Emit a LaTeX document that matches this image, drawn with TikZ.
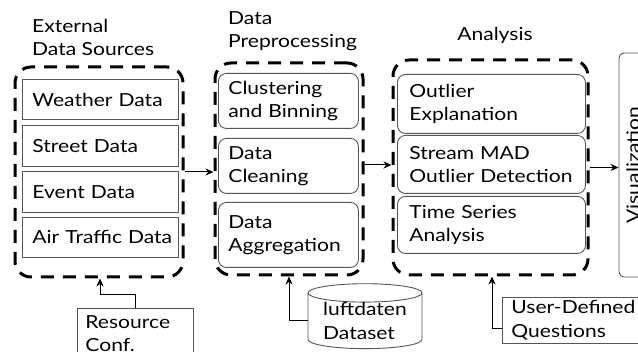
\documentclass[tikz,border=0pt]{standalone}
\usepackage{fontspec}
\setmainfont{Lato}[FakeStretch=1.17]
\usetikzlibrary{arrows.meta,shapes.geometric}
\definecolor{boxgray}{RGB}{85,85,85}
\newcommand\bodyfont{\fontsize{18}{23.5}\selectfont}
\begin{document}
\begin{tikzpicture}[x=1pt,y=-1pt,
  grp/.style={draw=black, line width=3pt, dash pattern=on 13pt off 9pt, rounded corners=16pt, inner sep=0pt},
  boxbase/.style={draw=boxgray, line width=0.9pt, anchor=north west, inner ysep=0pt, align=left, font=\bodyfont},
  srcbox/.style={boxbase, minimum width=156pt, text width=150pt, inner xsep=3pt, execute at begin node={\hspace*{7pt}}},
  prebox/.style={boxbase, rounded corners=8pt, minimum width=140pt, text width=120pt, inner xsep=10pt},
  anabox/.style={boxbase, rounded corners=8pt, minimum width=188pt, text width=164pt, inner xsep=12pt},
  plainbox/.style={boxbase},
  title/.style={inner sep=0pt, align=left, font=\bodyfont},
  arr/.style={draw=black, line width=1pt, -{Stealth[length=8pt,width=7pt]}}
]
\clip (0,0) rectangle (638,352);
% titles
\node[title, anchor=north west] (t1) at (32,19) {External\\Data Sources};
\node[title, anchor=north west] (t2) at (228,11) {Data\\Preprocessing};
\node[title, anchor=north] (t3) at (495,27.5) {Analysis};
% group boxes
\node[grp, minimum width=168pt, minimum height=210pt] (g1) at (99,172) {};
\node[grp, minimum width=148pt, minimum height=212pt] (g2) at (289,169) {};
\node[grp, minimum width=195pt, minimum height=215pt] (g3) at (490.5,167.5) {};
% sources
\node[srcbox, minimum height=40pt] (s1) at (22,79) {Weather Data};
\node[srcbox, minimum height=41pt] (s2) at (22,125) {Street Data};
\node[srcbox, minimum height=41pt] (s3) at (22,171) {Event Data};
\node[srcbox, minimum height=40pt] (s4) at (22,217) {Air Traffic Data};
% preprocessing
\node[prebox, minimum height=55pt] (p1) at (218,73) {Clustering\\and Binning};
\node[prebox, minimum height=55pt] (p2) at (218,138) {Data\\Cleaning};
\node[prebox, minimum height=65pt] (p3) at (218,202) {Data\\Aggregation};
% analysis
\node[anabox, minimum height=59pt] (a1) at (397,74) {Outlier\\Explanation};
\node[anabox, minimum height=58pt] (a2) at (397,135) {Stream MAD\\Outlier Detection};
\node[anabox, minimum height=57pt] (a3) at (397,196) {Time Series\\Analysis};
% visualization
\node[draw=boxgray, line width=0.9pt, rounded corners=5pt, rotate=90, minimum width=224pt, minimum height=28pt, inner sep=0pt, font=\bodyfont] (vis) at (633,165) {Visualization};
% inputs
\node[plainbox, minimum width=116pt, minimum height=50pt, text width=100pt, inner xsep=8pt] (res) at (77,308) {Resource\\Conf.};
\node[cylinder, shape border rotate=90, aspect=0.22, draw=boxgray, line width=0.9pt, minimum width=114pt, minimum height=64pt, inner sep=0pt, align=left, font=\bodyfont] (db) at (365,321) {luftdaten\\Dataset};
\node[plainbox, minimum width=150pt, minimum height=46pt, text width=132pt, inner xsep=9pt] (usr) at (502,297) {User-Defined\\Questions};
% connectors
\coordinate (c1) at (100,295);
\coordinate (c2) at (289,320);
\coordinate (c3) at (492,329);
\draw[arr] (g1.east) -- (g1.east -| g2.west);
\draw[arr] ([yshift=4pt]g2.east) -- ([yshift=4pt]g2.east -| g3.west);
\draw[arr] (g3.east) -- (g3.east -| vis.north);
\draw[arr] (res.north) |- (c1) -- (c1 |- g1.south);
\draw[arr] (db.west) -| (c2 |- g2.south);
\draw[arr] (usr.west |- c3) -| (c3 |- g3.south);
\end{tikzpicture}
\end{document}
